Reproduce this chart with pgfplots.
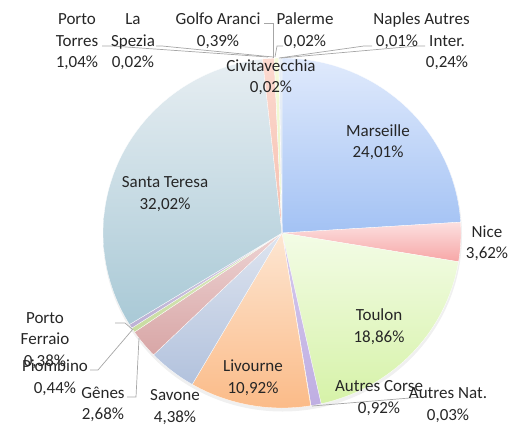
\documentclass[border=0pt]{standalone}
\usepackage{pgfplots}
\pgfplotsset{compat=1.18}
\usepackage{fontspec}
\setmainfont{Carlito}

\definecolor{marT}{HTML}{E0EAFC}\definecolor{marB}{HTML}{A3C2F4}
\definecolor{nicT}{HTML}{FCE0E0}\definecolor{nicB}{HTML}{F7A6A6}
\definecolor{touT}{HTML}{F3FCE6}\definecolor{touB}{HTML}{D6F2A8}
\definecolor{acoT}{HTML}{D6CAEE}\definecolor{acoB}{HTML}{BFAEE2}
\definecolor{anaT}{HTML}{F0D8B0}\definecolor{anaB}{HTML}{E0C090}
\definecolor{livT}{HTML}{FDE6D2}\definecolor{livB}{HTML}{FBBB88}
\definecolor{savT}{HTML}{DEE4EF}\definecolor{savB}{HTML}{B2C2DD}
\definecolor{genT}{HTML}{EDD3D3}\definecolor{genB}{HTML}{D8A6A6}
\definecolor{pioT}{HTML}{DFEAC6}\definecolor{pioB}{HTML}{C8DCA0}
\definecolor{pfeT}{HTML}{D6CEE6}\definecolor{pfeB}{HTML}{BCB0D4}
\definecolor{steT}{HTML}{E7EEF2}\definecolor{steB}{HTML}{A9C9D6}
\definecolor{ptoT}{HTML}{FCDAD0}\definecolor{ptoB}{HTML}{F6BEAE}
\definecolor{lspT}{HTML}{E0EAFC}\definecolor{lspB}{HTML}{C8D8F4}
\definecolor{gfaT}{HTML}{F6FBDC}\definecolor{gfaB}{HTML}{E8F4BE}
\definecolor{civT}{HTML}{F0E4F6}\definecolor{civB}{HTML}{DCC8EC}
\definecolor{palT}{HTML}{FDE8D8}\definecolor{palB}{HTML}{F8CCA8}
\definecolor{napT}{HTML}{E6ECF4}\definecolor{napB}{HTML}{C8D4E6}
\definecolor{aiT}{HTML}{EAF0F8}\definecolor{aiB}{HTML}{CCDCEC}
\definecolor{leader}{HTML}{A6A6A6}

\gdef\cum{0}
\newcommand\pieslice[3]{%
  \pgfmathsetmacro\sa{\cum*3.6}%
  \pgfmathsetmacro\sb{(\cum+#1)*3.6}%
  \edef\temp{\noexpand\addplot[draw=white, line width=0.3pt, top color=#2, bottom color=#3, domain=\sa:\sb, samples=60] ({282+179*sin(x)},{193+175*cos(x)}) -- (axis cs:282,193) -- cycle;}%
  \temp
  \pgfmathsetmacro\newcum{\cum+#1}\xdef\cum{\newcum}%
}

\tikzset{lab/.style={align=center, font=\fontsize{17bp}{21.5bp}\selectfont, text=black!85, inner sep=0pt}}

\begin{document}
\begin{tikzpicture}
\begin{axis}[hide axis, scale only axis, width=530bp, height=426bp,
  xmin=0, xmax=530, ymin=0, ymax=426, clip=false]
\path (rel axis cs:0,0) rectangle (rel axis cs:1,1);
% soft shadow
\fill[black!6] (axis cs:282.5,190.5) ellipse [x radius=179.5bp, y radius=176bp];
% slices, clockwise from 12 o'clock (percent)
\pieslice{24.01}{marT}{marB}% Marseille
\pieslice{3.62}{nicT}{nicB}% Nice
\pieslice{18.86}{touT}{touB}% Toulon
\pieslice{0.92}{acoT}{acoB}% Autres Corse
\pieslice{0.03}{anaT}{anaB}% Autres Nat.
\pieslice{10.92}{livT}{livB}% Livourne
\pieslice{4.38}{savT}{savB}% Savone
\pieslice{2.68}{genT}{genB}% Genes
\pieslice{0.44}{pioT}{pioB}% Piombino
\pieslice{0.38}{pfeT}{pfeB}% Porto Ferraio
\pieslice{32.02}{steT}{steB}% Santa Teresa
\pieslice{1.04}{ptoT}{ptoB}% Porto Torres
\pieslice{0.02}{lspT}{lspB}% La Spezia
\pieslice{0.39}{gfaT}{gfaB}% Golfo Aranci
\pieslice{0.02}{civT}{civB}% Civitavecchia
\pieslice{0.02}{palT}{palB}% Palerme
\pieslice{0.01}{napT}{napB}% Naples
\pieslice{0.24}{aiT}{aiB}% Autres Inter.
% leader lines
\begin{scope}[draw=leader, line width=0.7pt]
\draw (axis cs:102,380) -- (axis cs:112,380) -- (axis cs:268,369);
\draw (axis cs:156,380) -- (axis cs:162,380) -- (axis cs:273,369);
\draw (axis cs:264,403) -- (axis cs:273,403) -- (axis cs:273,368);
\draw (axis cs:283,380) -- (axis cs:277,380) -- (axis cs:275,369);
\draw (axis cs:372,380) -- (axis cs:364,380) -- (axis cs:279,368);
\draw (axis cs:425,380) -- (axis cs:417,380) -- (axis cs:281,368);
\draw (axis cs:115,103) -- (axis cs:125,103) -- (axis cs:132,97);
\draw (axis cs:90,56) -- (axis cs:98,56) -- (axis cs:133,97);
\draw (axis cs:127,29) -- (axis cs:136,29) -- (axis cs:139,88);
\draw (axis cs:422,29) -- (axis cs:312,20);
\end{scope}
% labels
\node[lab] at (axis cs:77,384) {Porto\\Torres\\1,04\%};
\node[lab] at (axis cs:133,384) {La\\Spezia\\0,02\%};
\node[lab] at (axis cs:218,395.5) {Golfo Aranci\\0,39\%};
\node[lab] at (axis cs:305,395.5) {Palerme\\0,02\%};
\node[lab] at (axis cs:397,395.5) {Naples\\0,01\%};
\node[lab] at (axis cs:447,384) {Autres\\Inter.\\0,24\%};
\node[lab] at (axis cs:271,349) {Civitavecchia\\0,02\%};
\node[lab] at (axis cs:378,284) {Marseille\\24,01\%};
\node[lab] at (axis cs:165,232) {Santa Teresa\\32,02\%};
\node[lab] at (axis cs:487,183) {Nice\\3,62\%};
\node[lab] at (axis cs:379,99.5) {Toulon\\18,86\%};
\node[lab] at (axis cs:253,48.5) {Livourne\\10,92\%};
\node[lab] at (axis cs:379,28) {Autres Corse\\0,92\%};
\node[lab] at (axis cs:448,21) {Autres Nat.\\0,03\%};
\node[lab] at (axis cs:175,19) {Savone\\4,38\%};
\node[lab] at (axis cs:103,21.5) {Gênes\\2,68\%};
\node[lab] at (axis cs:55,48.5) {Piombino\\0,44\%};
\node[lab] at (axis cs:45,85.5) {Porto\\Ferraio\\0,38\%};
\end{axis}
\end{tikzpicture}
\end{document}
